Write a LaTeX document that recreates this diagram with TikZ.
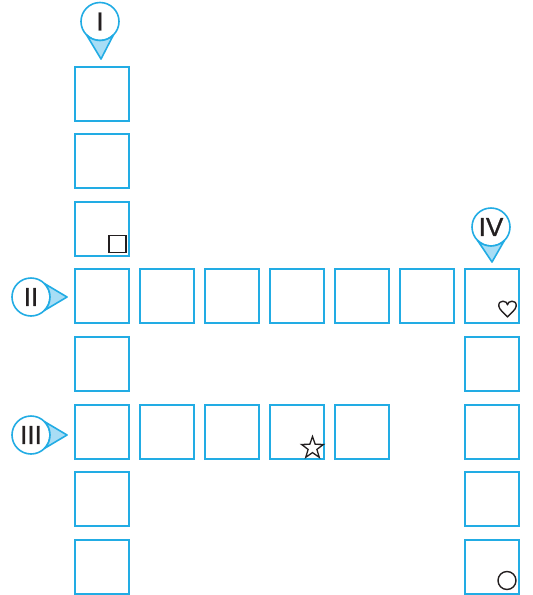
\documentclass[tikz,border=0pt]{standalone}
\usepackage{fontspec}
\setmainfont{Liberation Sans}
\newfontfamily\markfont[FakeBold=1]{Liberation Sans}
\usetikzlibrary{shapes.geometric}

\definecolor{cellblue}{HTML}{22ACE4}
\definecolor{tipblue}{HTML}{A8DDF5}
\definecolor{inkgray}{HTML}{231F20}

\tikzset{
  cell/.style={draw=cellblue, line width=2pt, minimum size=54pt, inner sep=0pt},
  marker/.style={circle, draw=cellblue, fill=white, line width=1.6pt,
    minimum size=38pt, inner sep=0pt, outer sep=0pt, text=inkgray,
    font=\markfont\fontsize{26}{26}\selectfont},
  pointer/.style={draw=cellblue, fill=tipblue, line width=1.6pt, line join=round},
  hint/.style={draw=inkgray, line width=1.4pt, inner sep=0pt}
}

% pointer of a marker: #1 marker, #2 tip, #3 direction
\newcommand{\pointto}[3]{%
  \draw[pointer] (#1.#3+45) -- (#2) -- (#1.#3-45)
    arc[start angle=#3-45, end angle=#3+45, radius=19];}

\begin{document}
\begin{tikzpicture}[x=1pt, y=1pt]
        \useasboundingbox (0,0) rectangle (533,-595);

        % Word I (down, first column)
        \node[cell] (i_1) at (102,-94) {};
        \node[cell] (i_2) at (102,-161) {};
        \node[cell] (i_3) at (102,-229) {};
        \node[cell] (i_4) at (102,-296) {};
        \node[cell] (i_5) at (102,-364) {};
        \node[cell] (i_6) at (102,-432) {};
        \node[cell] (i_7) at (102,-499) {};
        \node[cell] (i_8) at (102,-567) {};

        % Word II (across, starts in i_4)
        \node[cell] (ii_2) at (167,-296) {};
        \node[cell] (ii_3) at (232,-296) {};
        \node[cell] (ii_4) at (297,-296) {};
        \node[cell] (ii_5) at (362,-296) {};
        \node[cell] (ii_6) at (427,-296) {};
        \node[cell] (ii_7) at (492,-296) {};

        % Word III (across, starts in i_6)
        \node[cell] (iii_2) at (167,-432) {};
        \node[cell] (iii_3) at (232,-432) {};
        \node[cell] (iii_4) at (297,-432) {};
        \node[cell] (iii_5) at (362,-432) {};

        % Word IV (down, starts in ii_7)
        \node[cell] (iv_2) at (492,-364) {};
        \node[cell] (iv_3) at (492,-432) {};
        \node[cell] (iv_4) at (492,-499) {};
        \node[cell] (iv_5) at (492,-567) {};

        % Markers with their pointers
        \coordinate (tip_i) at (101,-59);
        \coordinate (tip_ii) at (67,-297);
        \coordinate (tip_iii) at (67,-435);
        \coordinate (tip_iv) at (492,-262);

        \node[marker] (m_i) at (100,-21.5) {I};
        \node[marker] (m_ii) at (31,-297) {II};
        \node[marker] (m_iii) at (31,-435) {III};
        \node[marker] (m_iv) at (491,-227) {IV};

        \pointto{m_i}{tip_i}{-90}
        \pointto{m_ii}{tip_ii}{0}
        \pointto{m_iii}{tip_iii}{0}
        \pointto{m_iv}{tip_iv}{-90}

        % Hint symbols in the corners of cells
        \node[hint, rectangle, minimum size=17pt] (sq) at (117.5,-244) {};
        \draw[hint, line join=round] (507.5,-317)
          .. controls (504,-313) and (499,-309.5) .. (498.8,-306)
          .. controls (498.6,-302.5) and (500.5,-301.2) .. (503,-301.2)
          .. controls (505.5,-301.2) and (507.5,-303) .. (507.5,-304.8)
          .. controls (507.5,-303) and (509.5,-301.2) .. (512,-301.2)
          .. controls (514.5,-301.2) and (516.4,-302.5) .. (516.2,-306)
          .. controls (516,-309.5) and (511,-313) .. (507.5,-317) -- cycle;
        \node[hint, star, star points=5, star point ratio=2.5,
          minimum size=23pt, line width=1.3pt] (star) at (312.5,-448) {};
        \node[hint, circle, minimum size=18pt] (ring) at (507,-580.5) {};
      \end{tikzpicture}
\end{document}
